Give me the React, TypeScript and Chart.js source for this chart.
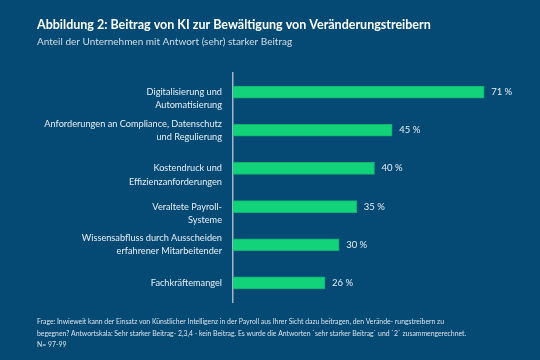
import React, { useEffect, useRef } from "react";
import { Chart, registerables } from "chart.js";

Chart.register(...registerables);

const categories: string[][] = [
  ["", "Digitalisierung und", "Automatisierung"],
  ["Anforderungen an Compliance, Datenschutz", "und Regulierung"],
  ["", "Kostendruck und", "Effizienzanforderungen"],
  ["", "Veraltete Payroll-", "Systeme"],
  ["Wissensabfluss durch Ausscheiden", "erfahrener Mitarbeitender"],
  ["Fachkräftemangel"],
];
const values: number[] = [71, 45, 40, 35, 30, 26];

const titleText = "Abbildung 2: Beitrag von KI zur Bewältigung von Veränderungstreibern";
const subtitleText = "Anteil der Unternehmen mit Antwort (sehr) starker Beitrag";
const footnoteLines: string[] = [
  "Frage: Inwieweit kann der Einsatz von Künstlicher Intelligenz in der Payroll aus Ihrer Sicht dazu beitragen, den Verände- rungstreibern zu",
  "begegnen? Antwortskala: Sehr starker Beitrag- 2,3,4 - kein Beitrag. Es wurde die Antworten `sehr starker Beitrag` und `2` zusammengerechnet.",
  "N= 97-99",
];

const BG = "#054a74";
const GREEN = "#12d27a";
const FONT = "Lato, 'Open Sans', sans-serif";

export default function App() {
  const ref = useRef<HTMLCanvasElement | null>(null);
  useEffect(() => {
    document.body.style.margin = "0";
    const canvas = ref.current!;
    const valueLabels = {
      id: "valueLabels",
      afterDatasetsDraw(chart: any) {
        const ctx = chart.ctx;
        const meta = chart.getDatasetMeta(0);
        ctx.save();
        ctx.font = `9.5px ${FONT}`;
        ctx.fillStyle = "#e6edf3";
        ctx.textAlign = "left";
        ctx.textBaseline = "middle";
        meta.data.forEach((el: any, i: number) => {
          ctx.fillText(`${values[i]} %`, el.x + 7, el.y);
        });
        ctx.restore();
      },
    };
    const footnote = {
      id: "footnote",
      afterDraw(chart: any) {
        const ctx = chart.ctx;
        ctx.save();
        ctx.font = `6.85px ${FONT}`;
        ctx.fillStyle = "#dbe3eb";
        ctx.textAlign = "left";
        ctx.textBaseline = "middle";
        footnoteLines.forEach((l, i) => ctx.fillText(l, 37, 322 + i * 11.5));
        ctx.restore();
      },
    };
    const chart = new Chart(canvas, {
      type: "bar",
      data: {
        labels: categories,
        datasets: [
          {
            data: values,
            backgroundColor: GREEN,
            borderColor: "#0fb070",
            borderWidth: 1,
            barThickness: 12,
          },
        ],
      },
      options: {
        indexAxis: "y",
        animation: false,
        responsive: false,
        layout: { padding: { left: 37, right: 24, top: 17, bottom: 58 } },
        plugins: {
          legend: { display: false },
          tooltip: { enabled: false },
          title: {
            display: true,
            text: titleText,
            align: "start",
            color: "#ffffff",
            font: { family: FONT, size: 12.5, weight: "bold" },
            padding: { top: 0, bottom: 4 },
          },
          subtitle: {
            display: true,
            text: subtitleText,
            align: "start",
            color: "#d3dde7",
            font: { family: FONT, size: 10 },
            padding: { top: 0, bottom: 25 },
          },
        },
        scales: {
          x: { display: false, min: 0, max: 80 },
          y: {
            grid: { display: false },
            border: { display: true, color: "#a3b6c8", width: 1.5 },
            ticks: {
              color: "#e8eef4",
              font: { family: FONT, size: 9.2, lineHeight: 1.45 },
              padding: 3,
              autoSkip: false,
            },
            afterFit(scale: any) {
              scale.width = 196;
            },
          },
        },
      },
      plugins: [valueLabels, footnote],
    });
    return () => chart.destroy();
  }, []);
  return (
    <div style={{ position: "absolute", left: 0, top: 0, width: 540, height: 360, background: BG }}>
      <canvas ref={ref} width={540} height={360} />
    </div>
  );
}
